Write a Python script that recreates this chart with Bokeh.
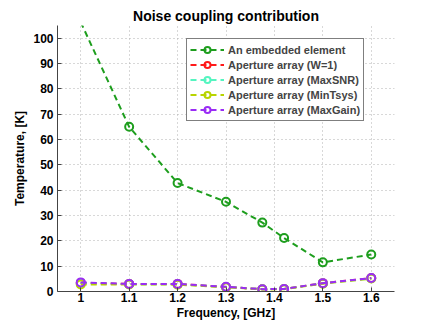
from bokeh.plotting import figure
from bokeh.models import FixedTicker, Legend, LegendItem, Range1d
from bokeh.embed import file_html
from bokeh.resources import INLINE

freq = [1.0, 1.1, 1.2, 1.3, 1.375, 1.42, 1.5, 1.6]
embedded = [106.3, 65.0, 42.8, 35.4, 27.2, 21.1, 11.5, 14.6]
aa_w1 = [3.4, 3.0, 3.0, 1.8, 0.9, 1.0, 3.3, 5.3]
aa_maxsnr = [3.3, 2.9, 2.9, 1.8, 0.9, 1.0, 3.2, 5.2]
aa_mintsys = [2.8, 2.8, 2.7, 1.7, 0.8, 0.9, 3.1, 5.1]
aa_maxgain = [3.6, 3.0, 3.0, 1.85, 0.9, 1.0, 3.3, 5.3]

series = [
    ("An embedded element", embedded, "#1e9e1e"),
    ("Aperture array (W=1)", aa_w1, "#ff1a1a"),
    ("Aperture array (MaxSNR)", aa_maxsnr, "#55f5c0"),
    ("Aperture array (MinTsys)", aa_mintsys, "#b8d400"),
    ("Aperture array (MaxGain)", aa_maxgain, "#9a2cf5"),
]

x_ticks = [1.0, 1.1, 1.2, 1.3, 1.4, 1.5, 1.6]
y_ticks = [0, 10, 20, 30, 40, 50, 60, 70, 80, 90, 100]
Y_MIN, Y_MAX = 0, 105

FONT = "Liberation Sans"

p = figure(width=428, height=326, output_backend="svg", toolbar_location=None,
           x_range=Range1d(0.952, 1.648), y_range=Range1d(Y_MIN, Y_MAX),
           min_border_left=57, min_border_right=34, min_border_top=25, min_border_bottom=35)

p.title.text = "Noise coupling contribution"
p.title.align = "center"
p.title.vertical_align = "top"
p.title.text_font = FONT
p.title.text_font_size = "14px"
p.title.text_font_style = "bold"
p.title.text_color = "black"
p.title.offset = 0
p.title.standoff = 0

p.outline_line_color = None
p.background_fill_color = "white"
p.border_fill_color = "white"

for ax in (p.xaxis[0], p.yaxis[0]):
    ax.major_label_text_font = FONT
    ax.major_label_text_font_size = "12px"
    ax.major_label_text_font_style = "bold"
    ax.major_label_text_color = "black"
    ax.axis_label_text_font = FONT
    ax.axis_label_text_font_size = "12px"
    ax.axis_label_text_font_style = "bold"
    ax.axis_label_text_color = "black"
    ax.axis_line_color = "#444444"
    ax.major_tick_line_color = "#444444"
    ax.major_tick_in = 4
    ax.major_tick_out = 0
    ax.minor_tick_line_color = None

p.xaxis[0].ticker = FixedTicker(ticks=x_ticks)
p.xaxis[0].major_label_overrides = {t: ("1" if t == 1.0 else f"{t:g}") for t in x_ticks}
p.yaxis[0].ticker = FixedTicker(ticks=y_ticks)
p.xaxis[0].axis_label = "Frequency, [GHz]"
p.yaxis[0].axis_label = "Temperature, [K]"
p.xaxis[0].major_label_standoff = 1
p.yaxis[0].major_label_standoff = 4
p.xaxis[0].axis_label_standoff = 1
p.yaxis[0].axis_label_standoff = 3

for g in (p.xgrid[0], p.ygrid[0]):
    g.grid_line_color = "#b0b0b0"
    g.grid_line_dash = "1 3"
    g.grid_line_width = 1

items = []
for name, vals, col in series:
    ln = p.line(freq, vals, line_color=col, line_width=2, line_dash="6 4")
    # markers of points outside the axis limits are not drawn (as in the original)
    mx = [f for f, v in zip(freq, vals) if Y_MIN <= v <= Y_MAX]
    my = [v for v in vals if Y_MIN <= v <= Y_MAX]
    sc = p.scatter(mx, my, marker="circle", size=8, fill_color=None,
                   line_color=col, line_width=2)
    items.append(LegendItem(label=name, renderers=[ln, sc]))

legend = Legend(items=items, location=(129, 170))
legend.label_text_font = FONT
legend.label_text_font_size = "11px"
legend.label_text_font_style = "bold"
legend.border_line_color = "black"
legend.border_line_width = 1
legend.glyph_width = 34
legend.glyph_height = 15
legend.label_height = 15
legend.spacing = 0
legend.padding = 3
legend.margin = 0
legend.label_standoff = 4
legend.background_fill_alpha = 1
p.add_layout(legend, "center")

open("out.html", "w").write(file_html(p, INLINE))
